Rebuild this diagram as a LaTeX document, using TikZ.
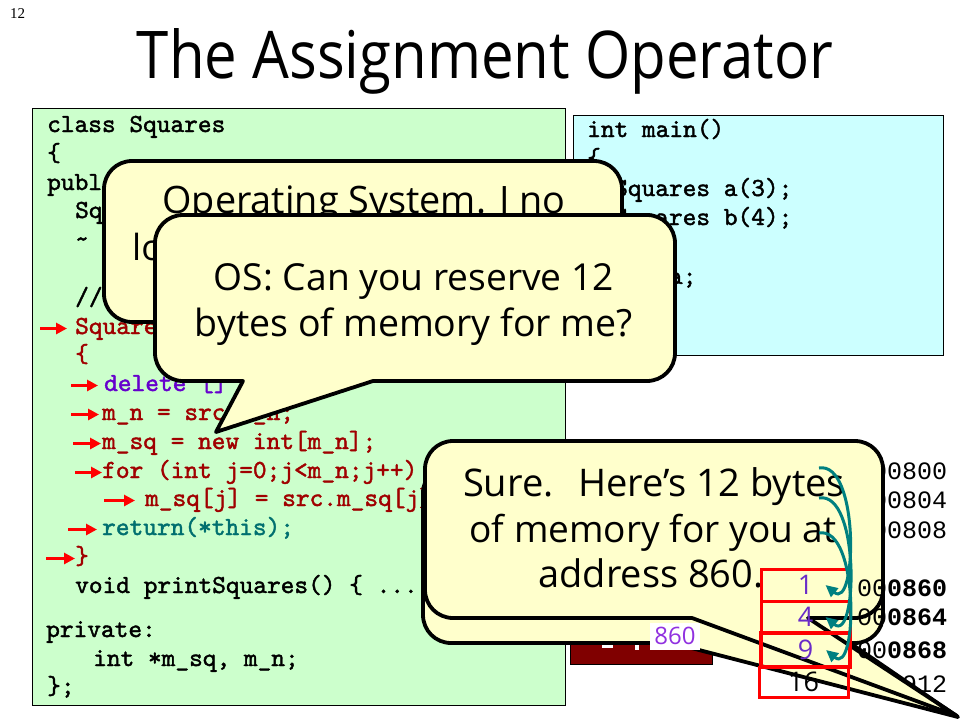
\documentclass[tikz,border=0pt]{standalone}
\usepackage{fontspec}
\setmainfont{Open Sans}
\newfontfamily\codefont[FakeBold=1.6]{lmmono10-regular.otf}
\newfontfamily\addrfont{Liberation Mono}
\newfontfamily\pagefont{Liberation Serif}
\usetikzlibrary{arrows.meta}
\definecolor{cream}{HTML}{FFFFCC}
\definecolor{codegreen}{HTML}{CCFFCC}
\definecolor{codeblue}{HTML}{CCFFFF}
\definecolor{codered}{HTML}{A00000}
\definecolor{codepurple}{HTML}{6600CC}
\definecolor{codeteal}{HTML}{006F6F}
\definecolor{arrowteal}{HTML}{008080}
\definecolor{boxred}{HTML}{800000}
\definecolor{numpurple}{HTML}{6A2BC8}
\definecolor{lblpurple}{HTML}{9030E0}
\newcommand\fitw[2]{\resizebox{#1}{!}{\fontsize{36}{40}\selectfont #2}}
% #1 style, #2 x1, #3 y1, #4 x2, #5 y2, #6 tail base left, #7 tail base right, #8 tip x, #9 tip y
\newcommand\bubblepath[9]{%
  \draw[#1] (#7,#5) -- ({#4-28},#5) arc[start angle=90,end angle=0,radius=28]
    -- (#4,{#3+28}) arc[start angle=0,end angle=-90,radius=28]
    -- ({#2+28},#3) arc[start angle=-90,end angle=-180,radius=28]
    -- (#2,{#5-28}) arc[start angle=180,end angle=90,radius=28]
    -- (#6,#5) -- (#8,#9) -- cycle;}
\begin{document}
\begin{tikzpicture}[x=1pt,y=-1pt,
  code/.style={anchor=base west, inner sep=0pt, font=\codefont\fontsize{26.1}{27}\selectfont, text height=16pt, text depth=5pt},
  addr/.style={anchor=base west, inner sep=0pt, font=\addrfont\fontsize{25}{26}\selectfont},
  redarr/.style={draw=red, line width=3.5pt, -{Triangle[length=11pt,width=11pt]}},
  tealarr/.style={draw=arrowteal, line width=3pt, -{Triangle[length=12pt,width=11pt]}},
  bubble/.style={fill=cream, draw=black, line width=3.8pt, line join=round},
  bubtext/.style={anchor=base, inner sep=0pt},
  cell/.style={draw=red, line width=3pt, minimum width=89pt, inner sep=0pt, font=\fontsize{27}{28}\selectfont},
]
\useasboundingbox[fill=white] (0,0) rectangle (960,720);

% page number and title
\node[anchor=base west, inner sep=0pt, font=\pagefont\fontsize{15}{16}\selectfont] (pg) at (10,18) {12};
\node[anchor=base, inner sep=0pt] (title) at (485,78) {\resizebox{696pt}{50pt}{\fontsize{60}{60}\selectfont The Assignment Operator}};

% green code panel
\draw[fill=codegreen, line width=0.8pt] (32,108) rectangle (565,705);
\node[code] (l0) at (47,132) {class Squares};
\node[code] (l1) at (47,161) {\{};
\node[code] (l2) at (47,190) {public:};
\node[code] (l3) at (75,218) {Squ};
\node[code] (l4) at (75,247) {\textasciitilde};
\node[code] (l6) at (75,305) {//};
\node[code, text=codered] (l7) at (75,334) {Squares};
\node[code, text=codered] (l8) at (75,362) {\{};
\node[code, text=codepurple] (l9) at (104,391) {delete [] m\_sq;};
\node[code, text=codered] (l10) at (102,420) {m\_n = src.m\_n;};
\node[code, text=codered] (l11) at (102,449) {m\_sq = new int[m\_n];};
\node[code, text=codered] (l12) at (102,478) {for (int j=0;j<m\_n;j++)};
\node[code, text=codered] (l13) at (145,506) {m\_sq[j] = src.m\_sq[j];};
\node[code, text=codeteal] (l14) at (102,535) {return(*this);};
\node[code, text=codered] (l15) at (75,564) {\}};
\node[code] (l16) at (75,593) {void printSquares() \{ ... \}};
\node[code] (l17) at (46,637) {private:};
\node[code] (l18) at (93,666) {int *m\_sq, m\_n;};
\node[code] (l19) at (47,694) {\};};

\draw[redarr] ([xshift=-35pt]l7.west) -- ([xshift=-8pt]l7.west);
\draw[redarr] ([xshift=-33pt]l9.west) -- ([xshift=-6pt]l9.west);
\draw[redarr] ([xshift=-31pt]l10.west) -- ([xshift=-3pt]l10.west);
\draw[redarr] ([xshift=-29pt]l11.west) -- ([xshift=-1pt]l11.west);
\draw[redarr] ([xshift=-27pt]l12.west) -- (l12.west);
\draw[redarr] ([xshift=-41pt]l13.west) -- ([xshift=-10pt]l13.west);
\draw[redarr] ([xshift=-34pt]l14.west) -- ([xshift=-5pt]l14.west);
\draw[redarr] ([xshift=-29pt]l15.west) -- (l15.west);

% blue main panel
\draw[fill=codeblue, line width=0.8pt] (573,115) rectangle (943,355);
\node[code] (b0) at (587,137) {int main()};
\node[code] (b1) at (587,166) {\{};
\node[code] (b2) at (614,196) {Squares a(3);};
\node[code] (b3) at (614,225) {Squares b(4);};
\node[code] (b5) at (614,284) {b = a;};

% addresses underneath the callouts
\node[addr] (a800) at (857,479) {000800};
\node[addr] (a804) at (857,508) {000804};
\node[addr] (a808) at (857,538) {000808};
\node[addr] (a912) at (857,692) {000912};

% dark red variable box
\draw[fill=boxred, line width=0.8pt] (570,600) rectangle (712,664);
\fill[white] (602,644) rectangle (613,648);
\fill[white] (635,643) rectangle (639,650);

% callout 1
\draw[bubble, rounded corners=28pt] (104,161) rectangle (622,322);
\node[bubtext] (t1a) at (364,213) {\fitw{403pt}{Operating System. I no}};
\node[anchor=base west, inner sep=0pt] (t1b) at (132,260) {\fontsize{36}{40}\selectfont lo};

% callout 2
\bubblepath{bubble}{155}{215}{675}{381}{243}{373}{216}{432}
\node[bubtext] (t2a) at (414,290) {\fitw{400pt}{OS: Can you reserve 12}};
\node[bubtext] (t2b) at (414,336) {\fitw{438pt}{bytes of memory for me?}};

% callout 3 (earlier copy, behind)
\bubblepath{bubble}{423}{465}{883}{643}{672}{850}{958}{717}
\node[fill=white, inner sep=0pt, minimum width=50pt, minimum height=27pt, text=lblpurple, font=\fontsize{24}{24}\selectfont] (lbl) at (675,636) {860};

% callout 3 (front)
\bubblepath{bubble}{425}{441}{883}{618}{692}{808}{957}{716}
\node[bubtext] (t3a) at (654,496) {\fitw{382pt}{Sure.\hspace{0.3em} Here’s 12 bytes}};
\node[bubtext] (t3b) at (653,542) {\fitw{367pt}{of memory for you at}};
\node[bubtext] (t3c) at (651,587) {\fitw{225pt}{address 860.}};

% new addresses on top
\node[addr] (a860) at (857,596) {00\bfseries 0860};
\node[addr] (a864) at (857,625) {00\bfseries 0864};
\node[addr] (a868) at (857,658) {00\bfseries 0868};

% new array cells
\node[cell, minimum height=32pt, text=numpurple] (c1) at (805.5,585) {1};
\node[cell, minimum height=32pt, text=numpurple] (c4) at (805.5,617) {4};
\node[cell, minimum height=34pt, line width=4pt, text=numpurple] (c9) at (805.5,650) {9};
\node[cell, minimum height=30pt] (c16) at (803.5,682) {16};

% copy arrows
\coordinate (o1) at (819,468);
\coordinate (o2) at (819,498);
\coordinate (o3) at (819,533);
\draw[tealarr] (o1) to[out=10,in=-40,looseness=0.9] ([xshift=-26pt]c1.east);
\draw[tealarr] (o2) to[out=10,in=-40,looseness=0.9] ([xshift=-26pt]c4.east);
\draw[tealarr] (o3) to[out=10,in=-40,looseness=0.9] ([xshift=-26pt]c9.east);
\end{tikzpicture}
\end{document}
